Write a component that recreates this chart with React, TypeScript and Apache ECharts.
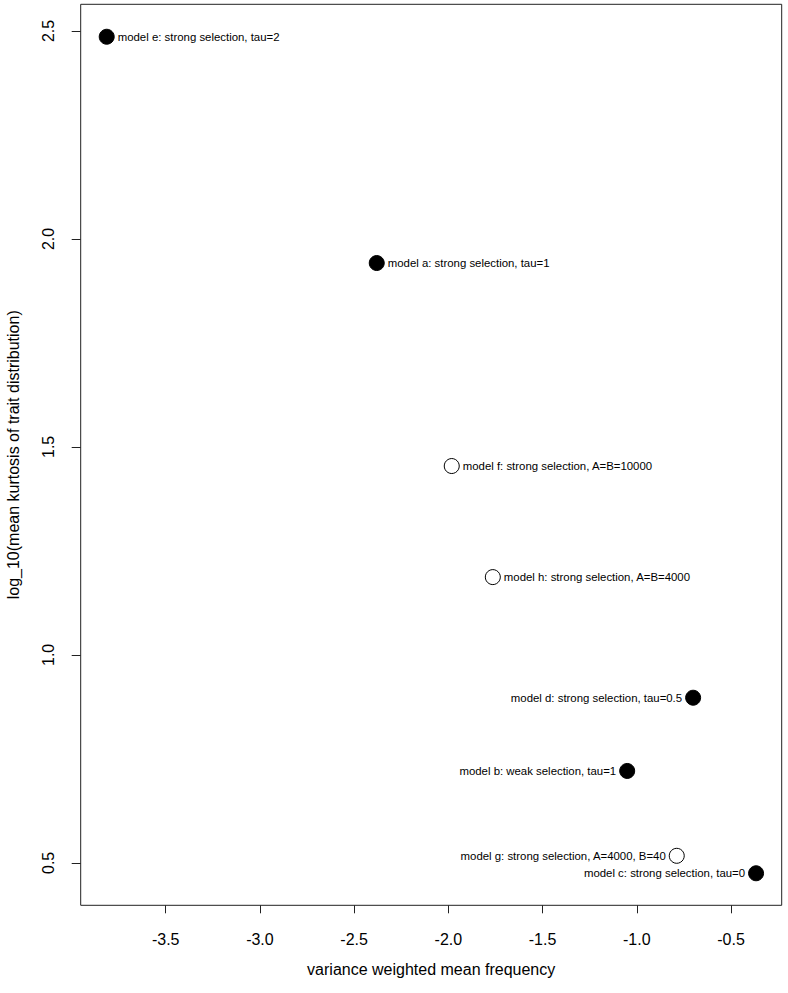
import React, { useEffect, useRef } from "react";
import * as echarts from "echarts";

// Data
const modelNames = [
  "model e: strong selection, tau=2",
  "model a: strong selection, tau=1",
  "model f: strong selection, A=B=10000",
  "model h: strong selection, A=B=4000",
  "model d: strong selection, tau=0.5",
  "model b: weak selection, tau=1",
  "model g: strong selection, A=4000, B=40",
  "model c: strong selection, tau=0",
];
const meanFrequency = [-3.813, -2.38, -1.982, -1.764, -0.701, -1.051, -0.788, -0.367];
const logKurtosis = [2.486, 1.942, 1.454, 1.187, 0.897, 0.721, 0.517, 0.475];
const filledMarker = [true, true, false, false, true, true, false, true];

const xTicks = [-3.5, -3.0, -2.5, -2.0, -1.5, -1.0, -0.5];
const yTicks = [0.5, 1.0, 1.5, 2.0, 2.5];

// label placement (style)
const labelSide = ["right", "right", "right", "right", "left", "left", "left", "left"];

export default function App() {
  const ref = useRef<HTMLDivElement>(null);
  useEffect(() => {
    if (!ref.current) return;
    const chart = echarts.init(ref.current, null, { renderer: "svg" });
    const font = "'Liberation Sans', Arial, sans-serif";
    const data = modelNames.map((name, i) => ({
      name,
      value: [meanFrequency[i], logKurtosis[i]],
      itemStyle: {
        color: filledMarker[i] ? "#000" : "#fff",
        borderColor: "#000",
        borderWidth: 1,
        opacity: 1,
      },
      label: {
        show: true,
        position: labelSide[i] as any,
        distance: 3,
        formatter: name,
        fontSize: 11.4,
        color: "#000",
        fontFamily: font,
      },
    }));
    chart.setOption({
      animation: false,
      backgroundColor: "#fff",
      grid: {
        left: 80.7,
        top: 4.3,
        right: 6.3,
        bottom: 87.7,
        containLabel: false,
        outerBoundsMode: "none",
        show: true,
        borderColor: "#222",
        borderWidth: 1,
        backgroundColor: "transparent",
      },
      xAxis: {
        type: "value",
        min: -3.951,
        max: -0.231,
        name: "variance weighted mean frequency",
        nameLocation: "middle",
        nameGap: 56,
        nameTextStyle: { fontSize: 16, color: "#000", fontFamily: font },
        axisLine: { show: false },
        axisTick: {
          show: true,
          length: 8,
          lineStyle: { color: "#222" },
          customValues: xTicks,
        },
        axisLabel: {
          customValues: xTicks,
          fontSize: 16,
          color: "#000",
          fontFamily: font,
          margin: 26,
          formatter: (v: number) => v.toFixed(1),
        },
        splitLine: { show: false },
      },
      yAxis: {
        type: "value",
        min: 0.398,
        max: 2.564,
        name: "log_10(mean kurtosis of trait distribution)",
        nameLocation: "middle",
        nameGap: 59,
        nameTextStyle: { fontSize: 16, color: "#000", fontFamily: font },
        axisLine: { show: false },
        axisTick: {
          show: true,
          length: 9,
          lineStyle: { color: "#222" },
          customValues: yTicks,
        },
        axisLabel: {
          customValues: yTicks,
          rotate: 90,
          fontSize: 16,
          color: "#000",
          fontFamily: font,
          margin: 24,
          formatter: (v: number) => v.toFixed(1),
        },
        splitLine: { show: false },
      },
      series: [
        {
          type: "scatter",
          symbol: "circle",
          symbolSize: 15,
          data,
        },
      ],
    });
    return () => chart.dispose();
  }, []);
  return (
    <div
      ref={ref}
      style={{ position: "absolute", left: 0, top: 0, width: 788, height: 993, background: "#fff" }}
    />
  );
}
